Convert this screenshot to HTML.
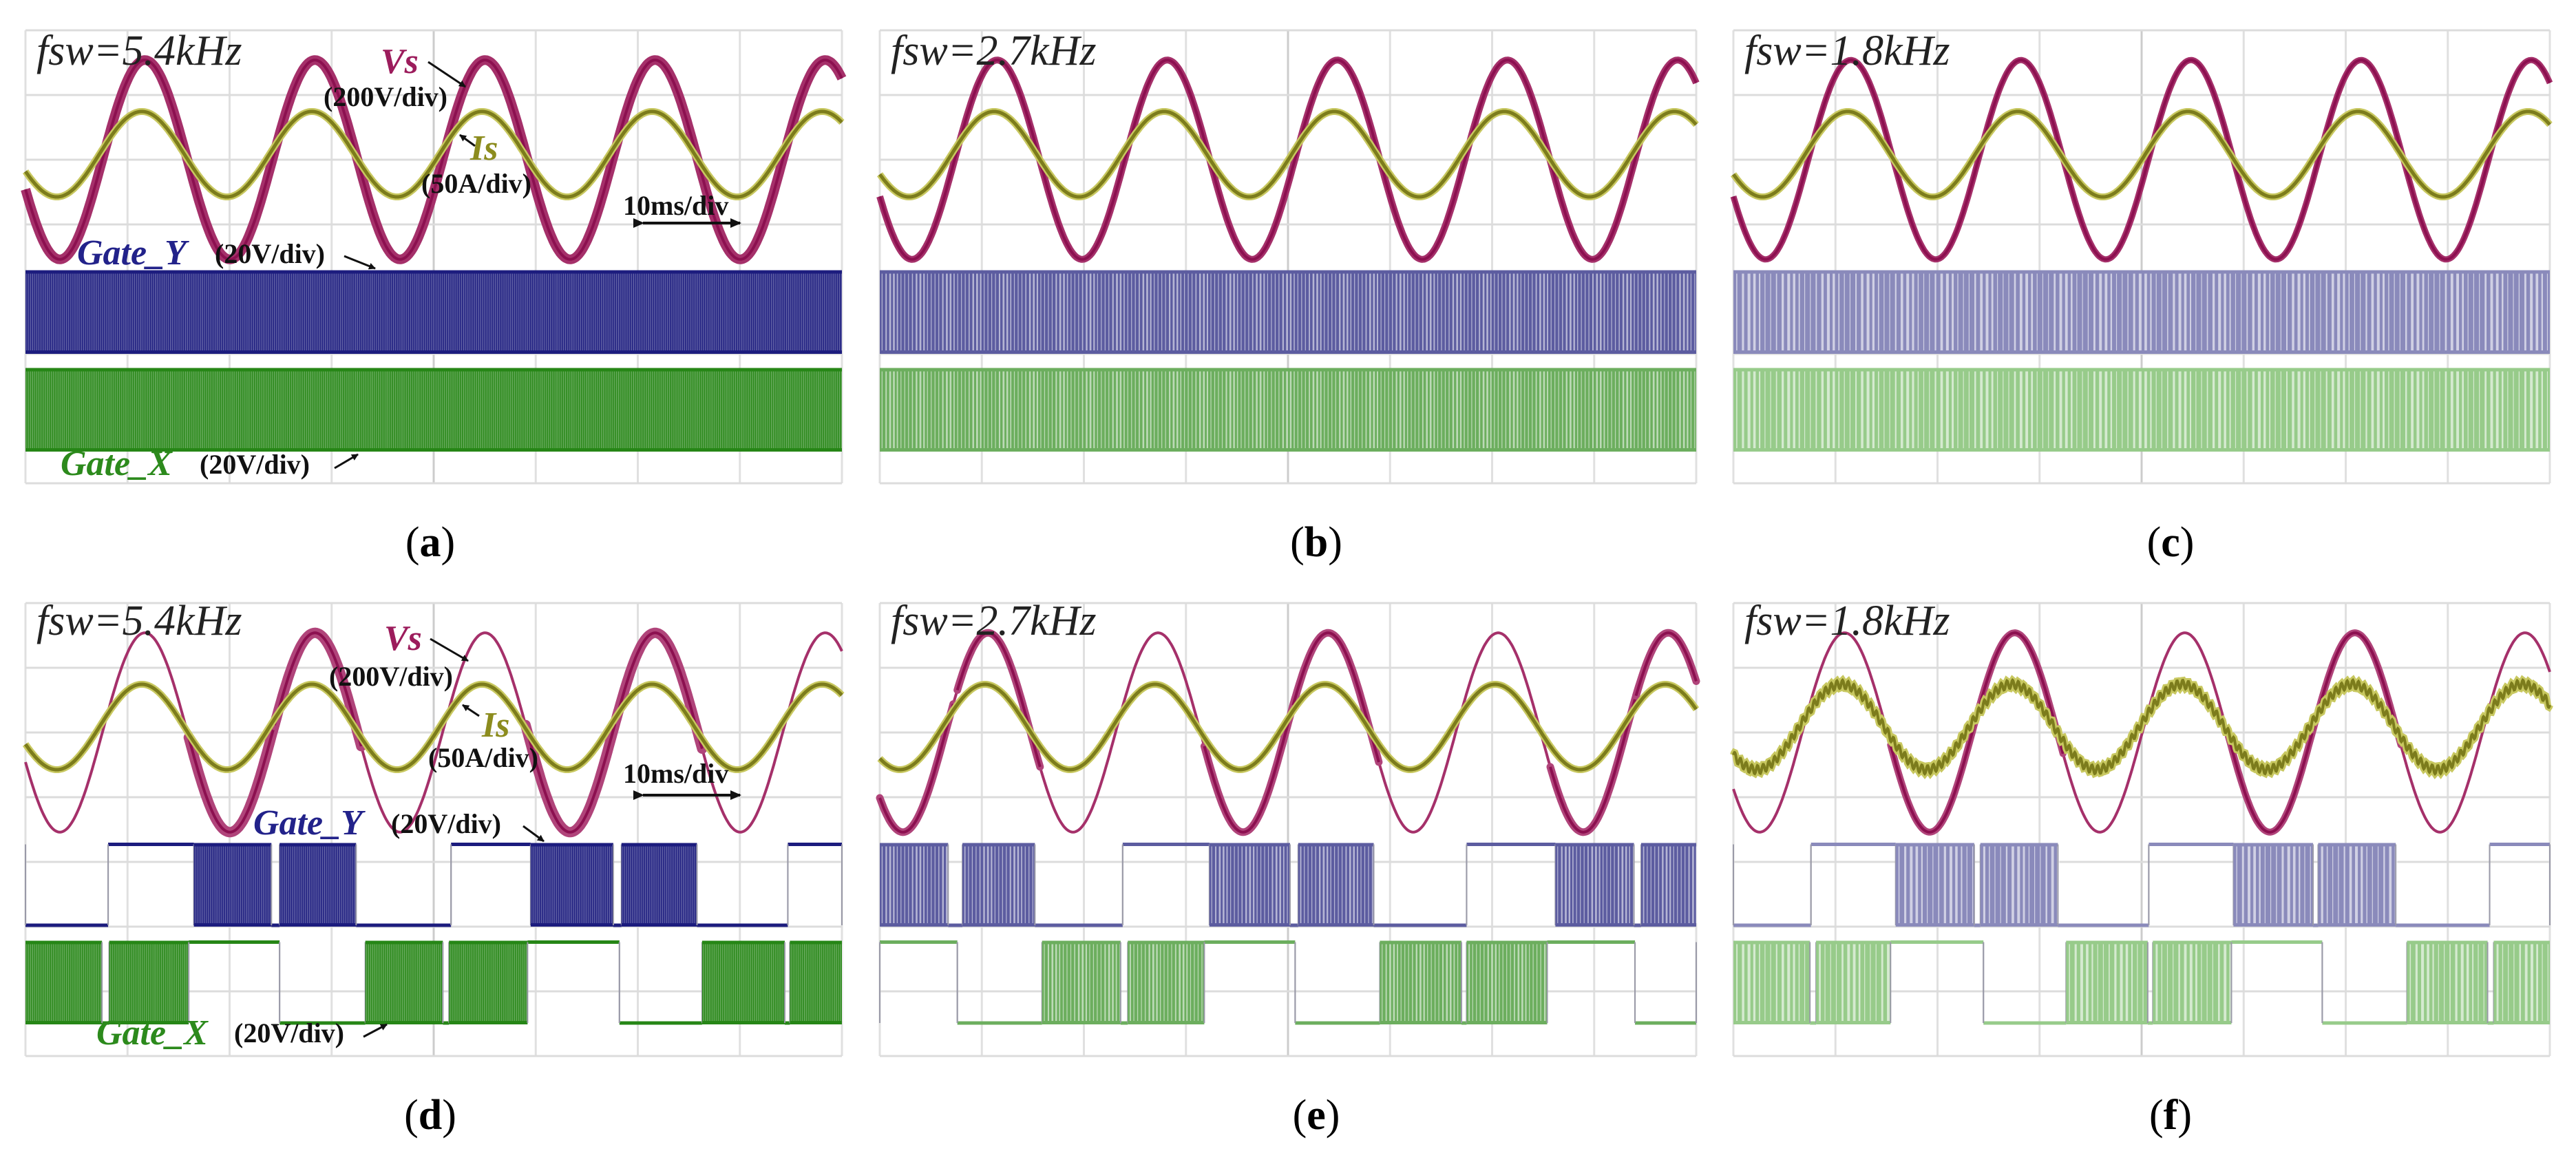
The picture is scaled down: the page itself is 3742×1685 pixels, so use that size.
<!DOCTYPE html>
<html><head><meta charset="utf-8">
<style>
html,body{margin:0;padding:0;background:#fff;}
svg{display:block;}
text{font-family:"Liberation Serif",serif;}
</style></head>
<body>
<svg id="fig" width="3742" height="1685" viewBox="0 0 3742 1685" xmlns="http://www.w3.org/2000/svg">
<defs>
<marker id="ah" markerWidth="10" markerHeight="10" refX="9" refY="5" orient="auto" markerUnits="userSpaceOnUse"><path d="M0,0 L10,5 L0,10 z" fill="#111"/></marker>
<marker id="ah2" markerWidth="16" markerHeight="14" refX="14" refY="7" orient="auto" markerUnits="userSpaceOnUse"><path d="M0,0 L16,7 L0,14 z" fill="#111"/></marker>
</defs>
<g id="grid-layer"></g>
<g id="trace-layer"></g>
<g id="text-layer"></g>
</svg>
<script>
// ---- data ----
const panelIds = ['a','b','c','d','e','f'];
const fswKHz = [5.4, 2.7, 1.8, 5.4, 2.7, 1.8];
const fswLabels = ['fsw=5.4kHz','fsw=2.7kHz','fsw=1.8kHz','fsw=5.4kHz','fsw=2.7kHz','fsw=1.8kHz'];
const vsPeakV = [308, 308, 308, 308, 308, 308];
const isPeakA = [33, 33, 33, 33, 33, 33];
const vsPeakTimeMs = [11.7, 11.5, 11.5, 11.7, 10.6, 10.9];
const lineFreqHz = 60;
const gateHighV = 25;
// gate segments: [start ms, end ms, state]  L=low H=high B=switching burst
const gateY = [
  [[0,80,'B']],
  [[0,80,'B']],
  [[0,80,'B']],
  [[0,8.1,'L'],[8.1,16.5,'H'],[16.5,24.1,'B'],[24.1,24.9,'L'],[24.9,32.4,'B'],[32.4,41.7,'L'],[41.7,49.5,'H'],[49.5,57.6,'B'],[57.6,58.4,'L'],[58.4,65.8,'B'],[65.8,74.7,'L'],[74.7,80,'H']],
  [[0,6.7,'B'],[6.7,8.1,'L'],[8.1,15.2,'B'],[15.2,23.8,'L'],[23.8,32.3,'H'],[32.3,40.2,'B'],[40.2,41.0,'L'],[41.0,48.4,'B'],[48.4,57.5,'L'],[57.5,66.2,'H'],[66.2,73.9,'B'],[73.9,74.6,'L'],[74.6,80,'B']],
  [[0,7.6,'L'],[7.6,15.9,'H'],[15.9,23.6,'B'],[23.6,24.2,'L'],[24.2,31.8,'B'],[31.8,40.7,'L'],[40.7,49.0,'H'],[49.0,56.8,'B'],[56.8,57.3,'L'],[57.3,64.9,'B'],[64.9,74.1,'L'],[74.1,80,'H']]
];
const gateX = [
  [[0,80,'B']],
  [[0,80,'B']],
  [[0,80,'B']],
  [[0,7.5,'B'],[7.5,8.2,'L'],[8.2,16.0,'B'],[16.0,24.9,'H'],[24.9,33.3,'L'],[33.3,40.9,'B'],[40.9,41.5,'L'],[41.5,49.2,'B'],[49.2,58.2,'H'],[58.2,66.3,'L'],[66.3,74.4,'B'],[74.4,74.9,'L'],[74.9,80,'B']],
  [[0,7.6,'H'],[7.6,15.9,'L'],[15.9,23.6,'B'],[23.6,24.3,'L'],[24.3,31.8,'B'],[31.8,40.7,'H'],[40.7,49.0,'L'],[49.0,57.0,'B'],[57.0,57.5,'L'],[57.5,65.4,'B'],[65.4,74.0,'H'],[74.0,80,'L']],
  [[0,7.5,'B'],[7.5,8.1,'L'],[8.1,15.4,'B'],[15.4,24.5,'H'],[24.5,32.6,'L'],[32.6,40.6,'B'],[40.6,41.1,'L'],[41.1,48.8,'B'],[48.8,57.7,'H'],[57.7,66.0,'L'],[66.0,73.9,'B'],[73.9,74.5,'L'],[74.5,80,'B']]
];

// ---- layout ----
const NS='http://www.w3.org/2000/svg';
const colX=[37,1278,2518], rowY=[44,876], PW=1186, DIV=94, TDIV=PW/8;
const yColors=['#1c1c7e','#5c5ca0','#8a8abb'];
const xColors=['#268616','#6cae5e','#97cb8a'];
const stripeOp=[0.35,0.55,0.6];
const labelX=[625,1912,3153], labelBase=[808,1640];
const gridL=document.getElementById('grid-layer');
const traceL=document.getElementById('trace-layer');
const textL=document.getElementById('text-layer');

function mk(tag,attrs,parent){const e=document.createElementNS(NS,tag);for(const k in attrs)e.setAttribute(k,attrs[k]);parent.appendChild(e);return e;}

panelIds.forEach((id,i)=>{
  const col=i%3,row=Math.floor(i/3);
  const x0=colX[col], top=rowY[row];
  const xs=t=>x0+t*PW/80;
  const yVs=v=>top+188-v/200*DIV;
  const yIs=a=>top+180-a/50*DIV;
  const yGY=v=>top+468-v/20*DIV;
  const yGX=v=>top+610-v/20*DIV;
  const w=2*Math.PI*lineFreqHz/1000;
  const tp=vsPeakTimeMs[i];

  const pg=mk('g',{},traceL);
  
  

  const gg=mk('g',{stroke:'#dcdcdc','stroke-width':3},gridL);
  
  
  for(let k=0;k<=8;k++) mk('line',{x1:x0+k*TDIV,y1:top,x2:x0+k*TDIV,y2:top+7*DIV,stroke:k==4?'#cccccc':'#e0e0e0'},gg);
  for(let k=0;k<=7;k++) mk('line',{x1:x0,y1:top+k*DIV,x2:x0+PW,y2:top+k*DIV},gg);

  const N=600;
  function vsPath(t0,t1){let d='';const n=Math.max(2,Math.round(N*(t1-t0)/80));for(let k=0;k<=n;k++){const t=t0+(t1-t0)*k/n;const v=vsPeakV[i]*Math.cos(w*(t-tp));d+=(k?'L':'M')+xs(t).toFixed(1)+','+yVs(v).toFixed(1);}return d;}
  function isPath(ripple){let d='';const n=ripple?1600:N;for(let k=0;k<=n;k++){const t=80*k/n;let a=isPeakA[i]*Math.cos(w*(t-tp+0.3));if(ripple)a+=3.2*Math.sin(2*Math.PI*fswKHz[i]*t);d+=(k?'L':'M')+xs(t).toFixed(1)+','+yIs(a).toFixed(1);}return d;}

  const bursts=gateY[i].filter(s=>s[2]=='B');
  const full=row==0;
  const thickW=[14,10,9][col];
  const vsThin=mk('path',{d:vsPath(0,80),fill:'none',stroke:'#a5306a','stroke-width':full?thickW:4,'stroke-linejoin':'round'},pg);
  
  
  if(full){
    mk('path',{d:vsPath(0,80),fill:'none',stroke:'#8c1050','stroke-width':4},pg);
  } else {
    bursts.forEach(b=>{
      mk('path',{d:vsPath(Math.max(0,b[0]-0.5),Math.min(80,b[1]+0.5)),fill:'none',stroke:'#b0447a','stroke-width':thickW+1,'stroke-linecap':'round'},pg);
      mk('path',{d:vsPath(Math.max(0,b[0]-0.5),Math.min(80,b[1]+0.5)),fill:'none',stroke:'#8c1050','stroke-width':4},pg);
    });
  }
  const rip=(i==5);
  mk('path',{d:isPath(rip),fill:'none',stroke:'#c8c860','stroke-width':10},pg);
  const isT=mk('path',{d:isPath(rip),fill:'none',stroke:'#7c7c1c','stroke-width':rip?4:5},pg);
  
  

  function drawGate(segs,yf,color,name){
    const g=mk('g',{},pg);
    
    
    const yH=yf(gateHighV), yL=yf(0);
    segs.forEach(s=>{
      const xa=xs(s[0]), xb=xs(s[1]);
      if(s[2]=='B'){
        mk('rect',{x:xa,y:yH,width:xb-xa,height:yL-yH,fill:color},g);
        const T=1/fswKHz[i];
        let n=0;
        for(let t=s[0]+T*0.5;t<s[1];t+=T){
          n++;
          const duty=0.5+0.4*Math.sin(w*(t-tp)+n*0.7);
          const sw=Math.max(1.2,(1-duty)*T*PW/80*0.55);
          mk('rect',{x:xs(t),y:yH+3,width:sw,height:yL-yH-6,fill:'#ffffff','fill-opacity':stripeOp[col]},g);
        }
        mk('line',{x1:xa,y1:yH,x2:xb,y2:yH,stroke:color,'stroke-width':4},g);
        mk('line',{x1:xa,y1:yL,x2:xb,y2:yL,stroke:color,'stroke-width':4},g);
      } else {
        const y=s[2]=='H'?yH:yL;
        mk('line',{x1:xa,y1:y,x2:xb,y2:y,stroke:color,'stroke-width':5},g);
        mk('line',{x1:xa,y1:yH,x2:xa,y2:yL,stroke:'#9a9aa8','stroke-width':2},g);
        mk('line',{x1:xb,y1:yH,x2:xb,y2:yL,stroke:'#9a9aa8','stroke-width':2},g);
      }
    });
  }
  drawGate(gateY[i],yGY,yColors[col],'gate-y-trace-'+id);
  drawGate(gateX[i],yGX,xColors[col],'gate-x-trace-'+id);

  const ft=mk('text',{x:x0+16,y:top+(row==0?50:46),'font-size':62,'font-style':'italic',fill:'#222'},textL);
  ft.textContent=fswLabels[i];
  
  
  const lt=mk('text',{x:labelX[col],y:labelBase[row],'font-size':62,'text-anchor':'middle',fill:'#000'},textL);
  lt.innerHTML='(<tspan font-weight="bold">'+id+'</tspan>)';
  
  
});

function txt(x,y,s,size,color,style,name){const t=mk('text',{x:x,y:y,'font-size':size,fill:color,'font-style':style||'normal','font-weight':'bold'},textL);t.textContent=s;return t;}
function arr(x1,y1,x2,y2,name,dbl){const l=mk('line',{x1:x1,y1:y1,x2:x2,y2:y2,stroke:'#111','stroke-width':dbl?4:3,'marker-end':dbl?'url(#ah2)':'url(#ah)'},textL);if(dbl)l.setAttribute('marker-start','url(#ah2)');}

// panel (a) annotations
txt(553,106,'Vs',52,'#9c1c5c','italic','vs-label-a');
txt(470,154,'(200V/div)',40,'#111',null,'vs-scale-a');
arr(622,90,676,126,'vs-arrow-a');
txt(683,232,'Is',52,'#8c8c1e','italic','is-label-a');
txt(612,280,'(50A/div)',40,'#111',null,'is-scale-a');
arr(690,212,668,196,'is-arrow-a');
txt(905,312,'10ms/div',40,'#111',null,'time-scale-a');
arr(934,324,1075,324,'time-scale-arrow-a',true);
txt(112,384,'Gate_Y',52,'#22228a','italic','gate-y-label-a');
txt(312,382,'(20V/div)',40,'#111',null,'gate-y-scale-a');
arr(500,372,545,390,'gate-y-arrow-a');
txt(88,690,'Gate_X',52,'#2c8a1c','italic','gate-x-label-a');
txt(290,688,'(20V/div)',40,'#111',null,'gate-x-scale-a');
arr(486,680,520,660,'gate-x-arrow-a');
// panel (d) annotations
txt(558,944,'Vs',52,'#9c1c5c','italic','vs-label-d');
txt(478,996,'(200V/div)',40,'#111',null,'vs-scale-d');
arr(625,928,680,960,'vs-arrow-d');
txt(700,1070,'Is',52,'#8c8c1e','italic','is-label-d');
txt(622,1114,'(50A/div)',40,'#111',null,'is-scale-d');
arr(696,1040,672,1024,'is-arrow-d');
txt(905,1137,'10ms/div',40,'#111',null,'time-scale-d');
arr(934,1155,1075,1155,'time-scale-arrow-d',true);
txt(368,1212,'Gate_Y',52,'#22228a','italic','gate-y-label-d');
txt(568,1210,'(20V/div)',40,'#111',null,'gate-y-scale-d');
arr(760,1200,790,1222,'gate-y-arrow-d');
txt(140,1517,'Gate_X',52,'#2c8a1c','italic','gate-x-label-d');
txt(340,1514,'(20V/div)',40,'#111',null,'gate-x-scale-d');
arr(528,1506,562,1488,'gate-x-arrow-d');
</script>
</body></html>
